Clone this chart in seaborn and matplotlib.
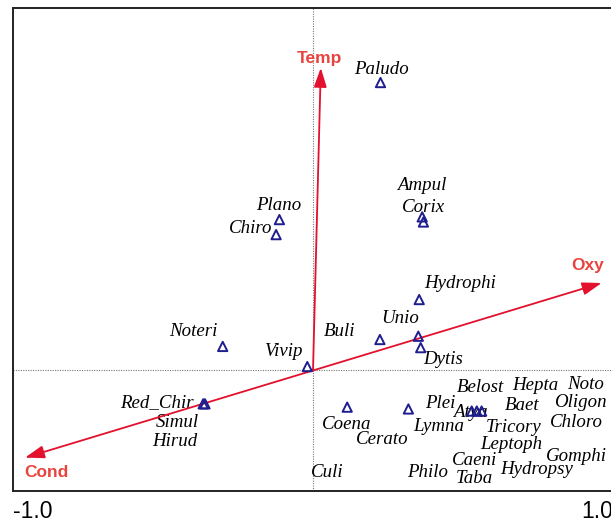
import numpy as np
import pandas as pd
import matplotlib
matplotlib.use("Agg")
import matplotlib.pyplot as plt
import seaborn as sns

# ================= data =================
# species points (triangles)
point_species = ["Paludo", "Ampul", "Corix", "Plano", "Chiro", "Noteri", "Vivip",
                 "Red_Chir", "Simul", "Hydrophi", "Buli", "Unio", "Dytis",
                 "Coena", "Plei", "Atya", "Belost", "Baet"]
point_x = [0.225, 0.364, 0.368, -0.112, -0.123, -0.301, -0.019,
           -0.366, -0.360, 0.354, 0.223, 0.351, 0.359,
           0.114, 0.318, 0.529, 0.546, 0.562]
point_y = [0.958, 0.511, 0.494, 0.502, 0.452, 0.080, 0.013,
           -0.111, -0.111, 0.236, 0.103, 0.114, 0.076,
           -0.122, -0.128, -0.135, -0.135, -0.135]

# species labels
label_text = ["Paludo", "Ampul", "Corix", "Plano", "Chiro", "Noteri", "Vivip",
              "Red_Chir", "Simul", "Hirud", "Hydrophi", "Unio", "Buli", "Dytis",
              "Coena", "Cerato", "Plei", "Lymna", "Atya", "Belost", "Hepta", "Noto",
              "Baet", "Oligon", "Tricory", "Chloro", "Leptoph", "Gomphi", "Caeni",
              "Hydropsy", "Taba", "Philo", "Culi"]
label_x = [0.227, 0.362, 0.367, -0.113, -0.207, -0.400, -0.100,
           -0.520, -0.453, -0.460, 0.490, 0.290, 0.087, 0.433,
           0.113, 0.230, 0.423, 0.420, 0.523, 0.557, 0.740, 0.909,
           0.696, 0.892, 0.668, 0.879, 0.662, 0.879, 0.537,
           0.746, 0.537, 0.382, 0.046]
label_y = [1.000, 0.617, 0.543, 0.550, 0.473, 0.130, 0.063,
           -0.106, -0.172, -0.237, 0.289, 0.172, 0.130, 0.037,
           -0.181, -0.230, -0.109, -0.186, -0.139, -0.058, -0.050, -0.048,
           -0.117, -0.108, -0.191, -0.172, -0.247, -0.287, -0.298,
           -0.330, -0.358, -0.341, -0.339]

# environmental arrows
env_names = ["Temp", "Oxy", "Cond"]
env_x = [0.026, 0.962, -0.960]
env_y = [1.007, 0.291, -0.290]
env_label_x = [0.023, 0.917, -0.890]
env_label_y = [1.037, 0.350, -0.340]

x_ticks = [-1.0, -0.5, 0.0, 0.5, 1.0]
x_tick_labels = ["-1.0", "", "", "", "1.0"]
y_ticks = [-0.4, -0.2, 0.0, 0.2, 0.4, 0.6, 0.8, 1.0]

# ================= style =================
sns.set_style("white")
plt.rcParams["font.family"] = ["Liberation Sans", "DejaVu Sans"]

ARROW_RED = "#E3102E"
LABEL_RED = "#E8443F"
NAVY = "#1E1E8E"

fig = plt.figure(figsize=(6.11, 5.24), dpi=100)
ax = fig.add_axes([13 / 611, 33.3 / 524, 600 / 611, 482.4 / 524])

# zero reference lines
ax.axhline(0, color="#777777", lw=0.8, ls=(0, (1, 1.2)), zorder=1)
ax.axvline(0, color="#777777", lw=0.8, ls=(0, (1, 1.2)), zorder=1)

# species labels (drawn under the markers)
for t, x, y in zip(label_text, label_x, label_y):
    ax.text(x, y, t, ha="center", va="center", fontsize=13.6, style="italic",
            family="Liberation Serif", color="black", zorder=2)

# environmental arrows
for name, x, y, lx, ly in zip(env_names, env_x, env_y, env_label_x, env_label_y):
    ax.annotate("", xy=(x, y), xytext=(0, 0),
                arrowprops=dict(arrowstyle="-|>,head_length=0.9,head_width=0.3",
                                color=ARROW_RED, lw=1.3, mutation_scale=13,
                                shrinkA=0, shrinkB=0),
                zorder=3)
    ax.text(lx, ly, name, ha="center", va="center", fontsize=12.5,
            fontweight="bold", color=LABEL_RED, zorder=4)

# species triangles
df_pts = pd.DataFrame({"species": point_species, "x": point_x, "y": point_y})
sns.scatterplot(data=df_pts, x="x", y="y", ax=ax, marker="^", s=45,
                facecolor="none", edgecolor=NAVY, linewidth=1.4, zorder=5,
                legend=False)

ax.set_xlim(-1.0, 1.0)
ax.set_ylim(-0.4, 1.205)
ax.set_xlabel("")
ax.set_ylabel("")

ax.set_xticks(x_ticks, labels=x_tick_labels)
ax.set_yticks(y_ticks, labels=[""] * len(y_ticks))
ax.tick_params(axis="x", direction="out", length=3, width=1.2, pad=4,
               labelsize=16.5, colors="#222222")
ax.tick_params(axis="y", direction="out", length=4.5, width=1.2, colors="#222222")
ticklabels = ax.get_xticklabels()
ticklabels[0].set_ha("left")
ticklabels[-1].set_ha("right")
for lab in ticklabels:
    lab.set_color("black")

for side in ["left", "bottom", "top"]:
    ax.spines[side].set_color("#222222")
    ax.spines[side].set_linewidth(1.4)
ax.spines["right"].set_visible(False)

fig.savefig("out.png", dpi=100)
